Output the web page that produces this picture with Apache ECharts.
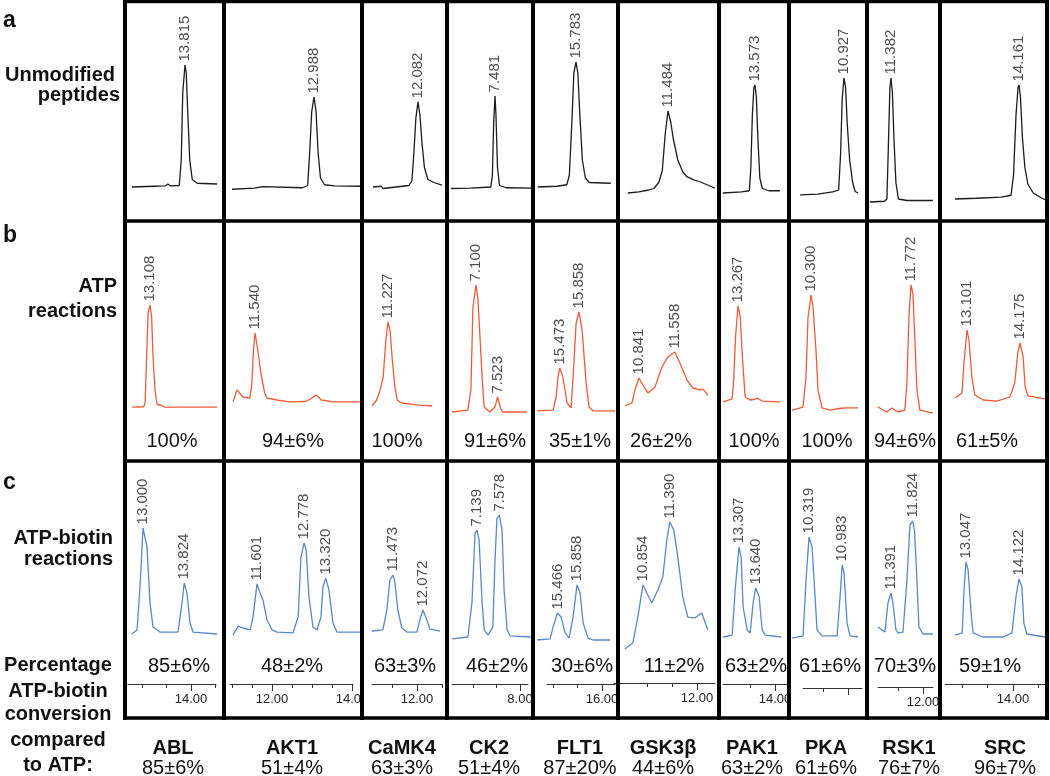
<!DOCTYPE html>
<html><head><meta charset="utf-8">
<script src="https://cdn.jsdelivr.net/npm/echarts@6/dist/echarts.min.js"></script>
<style>html,body{margin:0;padding:0;background:#fff}#c{width:1050px;height:776px}</style>
</head><body><div id="c"></div>
<script>
// ---------- DATA ----------
const kinases = ['ABL','AKT1','CaMK4','CK2','FLT1','GSK3β','PAK1','PKA','RSK1','SRC'];
const atpPct = ['100%','94±6%','100%','91±6%','35±1%','26±2%','100%','100%','94±6%','61±5%'];
const biotinPct = ['85±6%','48±2%','63±3%','46±2%','30±6%','11±2%','63±2%','61±6%','70±3%','59±1%'];
const comparedPct = ['85±6%','51±4%','63±3%','51±4%','87±20%','44±6%','63±2%','61±6%','76±7%','96±7%'];
const panelLetters = ['a','b','c'];
const rowLabelA = ['Unmodified','peptides'];
const rowLabelB = ['ATP','reactions'];
const rowLabelC = ['ATP-biotin','reactions'];
const footLabel = ['Percentage','ATP-biotin','conversion','compared','to ATP:'];

// retention-time window (min) of each chromatogram panel
const rangeA = [[12.655,14.555],[10.788,14.138],[11.002,12.622],[6.579,8.187],[14.963,16.583],[10.524,12.464],[12.893,14.213],[9.867,11.347],[10.942,12.322],[12.599,14.688]];
const rangeB = [[12.648,14.548],[10.815,14.165],[10.747,12.367],[6.571,8.178],[14.978,16.598],[10.461,12.401],[12.927,14.247],[9.9,11.38],[10.932,12.312],[12.594,14.683]];
const rangeC = [[12.68,14.58],[10.826,14.176],[10.893,12.513],[6.59,8.198],[15.018,16.638],[10.394,12.334],[12.947,14.267],[9.959,11.439],[10.951,12.331],[12.56,14.649]];

// traces: [retention time (min), relative absorbance]
const traceA = [
 [[12.755,12],[13.2,12.5],[13.42,12.7],[13.47,14],[13.52,12.8],[13.70,13],[13.74,30],[13.77,75],[13.815,93.3],[13.84,88],[13.87,62],[13.91,30],[13.96,17],[14.06,14.5],[14.455,14]],
 [[10.94,10.5],[11.5,11.2],[11.7,12.3],[11.75,11.3],[12.7,11.5],[12.83,13],[12.88,35],[12.93,62],[12.988,72],[13.04,62],[13.09,35],[13.15,18],[13.25,13.5],[13.5,12.8],[14.138,12.5]],
 [[11.18,12],[11.35,12.5],[11.38,11],[11.42,12.3],[11.9,13],[11.96,16],[12.0,35],[12.04,58],[12.082,68.7],[12.12,60],[12.16,42],[12.21,25],[12.28,17],[12.4,15],[12.56,13.3]],
 [[6.62,11],[7.0,11.3],[7.40,12],[7.43,20],[7.455,55],[7.481,72.7],[7.50,60],[7.53,25],[7.57,13],[7.7,11.5],[8.187,11.3]],
 [[15.02,12],[15.4,12.5],[15.6,13.5],[15.65,20],[15.70,55],[15.74,88],[15.783,95.3],[15.82,88],[15.86,60],[15.91,30],[15.97,18],[16.05,15],[16.48,14.5]],
 [[10.68,8],[10.9,8.7],[11.1,10],[11.2,11],[11.3,15],[11.37,23],[11.43,48],[11.484,62.7],[11.54,55],[11.59,44],[11.68,30],[11.78,22],[11.87,18.7],[12.0,16.7],[12.12,15.5],[12.3,13],[12.42,11.3]],
 [[12.93,8],[13.3,8.7],[13.46,9.5],[13.49,25],[13.52,60],[13.55,78],[13.573,80],[13.60,72],[13.63,45],[13.67,18],[13.72,11],[13.85,9.5],[14.07,9.5]],
 [[10.05,6.7],[10.4,7.3],[10.7,8.7],[10.82,10],[10.86,35],[10.89,70],[10.927,84.7],[10.96,78],[10.99,55],[11.04,30],[11.10,15],[11.15,9],[11.21,8]],
 [[10.96,2],[11.25,2.5],[11.30,4],[11.33,40],[11.36,78],[11.382,84.7],[11.41,75],[11.44,45],[11.48,15],[11.53,4],[11.7,3],[12.22,3]],
 [[12.86,4],[13.3,4.5],[13.8,5.3],[14.0,6.5],[14.05,20],[14.10,60],[14.14,78],[14.161,80],[14.19,72],[14.23,45],[14.28,25],[14.34,14],[14.45,8],[14.6,5],[14.688,3.5]]
];
const traceB = [
 [[12.75,7.3],[12.98,7.5],[13.01,10],[13.04,40],[13.07,70],[13.108,75.3],[13.14,68],[13.17,40],[13.21,18],[13.25,9],[13.33,8.5],[13.4,7.3],[14.448,7.3]],
 [[10.99,10.7],[11.09,18.7],[11.24,14],[11.41,13.3],[11.46,22],[11.50,45],[11.54,56.7],[11.60,47],[11.66,35],[11.72,25],[11.78,17],[11.84,13.3],[12.0,12.5],[12.09,12],[12.4,10.7],[12.8,11],[12.95,13],[13.065,15.3],[13.2,12],[13.5,10.7],[14.165,10.7]],
 [[10.91,8],[11.0,12],[11.07,18.7],[11.13,27],[11.18,50],[11.227,64],[11.27,58],[11.31,40],[11.36,22],[11.41,12],[11.50,10],[11.8,8.7],[12.11,8]],
 [[6.63,4],[6.94,5.3],[7.0,18.7],[7.04,74],[7.10,88.7],[7.14,78.7],[7.22,27],[7.26,7.3],[7.37,4],[7.47,7.3],[7.523,14],[7.58,6.7],[7.62,4],[8.1,4]],
 [[15.02,4.7],[15.34,5.3],[15.40,14],[15.44,28],[15.473,33.3],[15.53,28],[15.62,10],[15.70,6.7],[15.74,27],[15.80,63],[15.858,70.7],[15.92,58.7],[16.0,23.3],[16.06,7.3],[16.14,4.7],[16.58,4.7]],
 [[10.56,8],[10.70,10],[10.76,18.7],[10.841,26.7],[10.92,22],[11.02,16.7],[11.16,20.7],[11.30,34],[11.42,40.7],[11.558,44],[11.66,36.7],[11.80,25.3],[11.92,20],[12.06,18.7],[12.12,19.3],[12.16,19],[12.22,15.3]],
 [[12.97,10.7],[13.15,12.7],[13.18,25],[13.22,55],[13.267,74.7],[13.31,68],[13.36,38],[13.41,14],[13.51,12],[13.6,12.5],[13.65,13.3],[13.75,11.3],[14.11,10.7]],
 [[9.92,5.3],[10.14,7.3],[10.20,27],[10.24,67],[10.30,82],[10.34,74],[10.40,45],[10.44,18.7],[10.52,6.7],[10.68,5.3],[10.9,6.5],[11.02,6.7],[11.24,6.7]],
 [[11.11,7.3],[11.29,4],[11.39,6.7],[11.51,4],[11.65,5.3],[11.69,23.3],[11.73,67],[11.772,88.7],[11.81,83],[11.85,52],[11.89,18.7],[11.95,5.3],[12.21,3.3]],
 [[12.86,13.3],[13.0,16.7],[13.04,36.7],[13.101,58.7],[13.14,52],[13.20,27.3],[13.26,15.3],[13.43,12],[13.71,11.3],[13.97,14],[14.07,23.3],[14.13,43],[14.175,50],[14.24,40.7],[14.28,20.7],[14.34,14.7],[14.68,12.7]]
];
const traceC = [
 [[12.78,12],[12.88,14.7],[12.94,43],[13.0,82.7],[13.08,70],[13.14,32.7],[13.2,16.7],[13.34,13.3],[13.70,13.3],[13.78,32.7],[13.824,46],[13.88,39.3],[13.94,19.3],[14.0,13.3],[14.48,12]],
 [[11.0,11.3],[11.13,17.3],[11.25,16],[11.43,14.7],[11.5,23.3],[11.601,45.3],[11.68,39.3],[11.75,34.7],[11.85,21.3],[11.98,14.7],[12.1,13.3],[12.5,12.7],[12.63,23.3],[12.70,63.3],[12.778,72.7],[12.83,68],[12.90,36.7],[13.0,16.7],[13.1,14.7],[13.2,23.3],[13.25,43.3],[13.32,49.3],[13.4,41.3],[13.5,19.3],[13.6,13.3],[14.17,13.3]],
 [[11.05,14],[11.27,14.7],[11.35,28],[11.41,48],[11.473,51.3],[11.51,46.7],[11.57,28],[11.65,16],[11.75,13.3],[11.95,13.3],[12.01,21.3],[12.072,28],[12.15,21.3],[12.21,15.3],[12.31,14.7],[12.35,16],[12.41,14]],
 [[6.65,8.7],[6.96,10],[7.04,32.7],[7.10,79.3],[7.139,81.3],[7.18,74.7],[7.24,32.7],[7.28,14.7],[7.355,11.3],[7.45,16.7],[7.49,59.3],[7.53,89.3],[7.578,91.3],[7.63,81.3],[7.67,41.3],[7.73,14.7],[7.79,10.7],[8.198,10]],
 [[15.06,8],[15.32,8.7],[15.38,16.7],[15.466,26],[15.54,23.3],[15.62,12.7],[15.70,9.3],[15.78,23.3],[15.858,44.7],[15.92,39.3],[15.98,19.3],[16.08,9.3],[16.18,8],[16.52,8]],
 [[10.49,2],[10.65,6],[10.75,23.3],[10.854,44.7],[10.93,39.3],[11.03,32.7],[11.15,41.3],[11.25,50],[11.33,74.7],[11.39,86.7],[11.47,81.3],[11.55,63.3],[11.65,36.7],[11.75,23.3],[11.89,22.7],[12.03,26],[12.15,14.7]],
 [[12.99,10],[13.17,11.3],[13.23,41.3],[13.307,70],[13.35,63.3],[13.39,30],[13.47,14.7],[13.53,12.7],[13.59,32.7],[13.64,42.7],[13.71,36.7],[13.77,14.7],[13.83,11.3],[14.15,10]],
 [[9.98,9.3],[10.20,10.7],[10.26,48],[10.319,76.7],[10.38,70],[10.42,48],[10.48,14.7],[10.58,10.7],[10.88,10.7],[10.94,36.7],[10.983,58],[11.02,52.7],[11.08,19.3],[11.14,10.7],[11.30,10]],
 [[11.13,16.7],[11.27,13.3],[11.33,32.7],[11.391,39.3],[11.43,32.7],[11.49,14.7],[11.53,12.7],[11.63,13.3],[11.71,48],[11.77,84.7],[11.824,87.3],[11.86,81.3],[11.91,48],[11.95,16.7],[12.03,12],[12.23,12]],
 [[12.82,11.3],[12.97,12.7],[13.01,43.3],[13.047,60],[13.09,54.7],[13.15,26],[13.19,12.7],[13.39,10],[13.80,10],[13.98,12.7],[14.06,36.7],[14.122,48.7],[14.18,43.3],[14.22,19.3],[14.28,12],[14.649,10]]
];
// labelled peaks: [retention time, height]
const peaksA = [[[13.815,93.3]],[[12.988,72]],[[12.082,68.7]],[[7.481,72.7]],[[15.783,95.3]],[[11.484,62.7]],[[13.573,80]],[[10.927,84.7]],[[11.382,84.7]],[[14.161,80]]];
const peaksB = [[[13.108,75.3]],[[11.540,56.7]],[[11.227,64]],[[7.100,88.7],[7.523,14]],[[15.473,33.3],[15.858,70.7]],[[10.841,26.7],[11.558,44]],[[13.267,74.7]],[[10.300,82]],[[11.772,88.7]],[[13.101,58.7],[14.175,50]]];
const peaksC = [[[13.000,82.7],[13.824,46]],[[11.601,45.3],[12.778,72.7],[13.320,49.3]],[[11.473,51.3],[12.072,28]],[[7.139,81.3],[7.578,91.3]],[[15.466,26],[15.858,44.7]],[[10.854,44.7],[11.390,86.7]],[[13.307,70],[13.640,42.7]],[[10.319,76.7],[10.983,58]],[[11.391,39.3],[11.824,87.3]],[[13.047,60],[14.122,48.7]]];

// time axes under the ATP-biotin chromatograms
const axisRange = [[12.714,14.51],[10.95,14.025],[11.1,12.5],[6.553,8.17],[14.878,16.265],[10.34,12.36],[12.96,14.26],[10.1,11.28],[11.1,12.2],[12.667,14.667]];
const axisTicks = [[13,13.5,14,14.5],[11,11.5,12,12.5,13,13.5,14],[11.5,12,12.5],[7,7.5,8],[15,15.5,16],[11,11.5,12],[13.5,14],[10.5,11],[11.5,12],[13,13.5,14,14.5]];
const axisMajor = [[14],[12,14],[12],[8],[16],[12],[14],[11],[12],[14]];
const axisLabels = [[14],[12,14],[12],[8],[16],[12],[14],[],[12],[14]];

// ---------- LAYOUT ----------
const borders = [125,224,362,447,533,618,719,789,867,940,1047];
const colL = [127,226,364,449,535,620,721,791,869,942];
const colR = [222,360,445,531,616,717,787,865,938,1045];
const rowTop = [55,268,502];
const PH = 150;
const colors = ['#1c1c1c','#ef5a39','#5b87c8'];
const axL = [128,230,372,452,547,614,723,803,878,945];
const axR = [216,353,442,528,615,715,788,862,933,1047];
const axY = [684,684,684,684,684,683,684,688,687,684];
const pctBX = [172,293,397,495,580,661,754,827,905,987];
const pctCX = [179,292,405,497,582,674,756,830,905,990];
const nameX = [173,292,402,489,580,663,752,826,909,1005];

const FF = '"Liberation Sans", Arial, Helvetica, sans-serif';
const grids = [], xAxes = [], yAxes = [], series = [];
const rows = [[rangeA,traceA,peaksA],[rangeB,traceB,peaksB],[rangeC,traceC,peaksC]];
rows.forEach((row, r) => {
  for (let i = 0; i < 10; i++) {
    const g = grids.length;
    grids.push({left: colL[i], top: rowTop[r], width: colR[i]-colL[i], height: PH});
    xAxes.push({gridIndex: g, type: 'value', min: row[0][i][0], max: row[0][i][1], show: false});
    yAxes.push({gridIndex: g, type: 'value', min: 0, max: 100, show: false});
    series.push({type: 'line', xAxisIndex: xAxes.length-1, yAxisIndex: g, data: row[1][i],
      showSymbol: false, symbol: 'none', silent: true, clip: false,
      lineStyle: {color: colors[r], width: 1.3}});
    series.push({type: 'scatter', xAxisIndex: xAxes.length-1, yAxisIndex: g, data: row[2][i],
      symbolSize: 1, silent: true, itemStyle: {color: 'rgba(0,0,0,0)'},
      label: {show: true, position: 'top', distance: 3, rotate: 90, align: 'left', verticalAlign: 'middle',
        formatter: p => p.value[0].toFixed(3), fontSize: 15, color: '#222', fontFamily: FF}});
  }
});
for (let i = 0; i < 10; i++) {
  const g = grids.length;
  grids.push({left: axL[i], top: axY[i]-1, width: axR[i]-axL[i], height: 1});
  yAxes.push({gridIndex: g, type: 'value', min: 0, max: 1, show: false});
  xAxes.push({gridIndex: g, type: 'value', position: 'bottom', min: axisRange[i][0], max: axisRange[i][1],
    axisLine: {show: true, lineStyle: {color: '#333', width: 1}},
    axisTick: {show: true, length: 4, customValues: axisTicks[i], lineStyle: {color: '#333', width: 1}},
    axisLabel: {show: axisLabels[i].length > 0, customValues: axisLabels[i], formatter: v => v.toFixed(2),
      margin: 9, fontSize: 13, color: '#222', fontFamily: FF},
    splitLine: {show: false}});
  xAxes.push({gridIndex: g, type: 'value', position: 'bottom', min: axisRange[i][0], max: axisRange[i][1],
    axisLine: {show: false},
    axisTick: {show: true, length: 7, customValues: axisMajor[i], lineStyle: {color: '#333', width: 1}},
    axisLabel: {show: false}, splitLine: {show: false}});
}

const graphic = [];
const txt = (x, y, text, font, align) => graphic.push({type: 'text', x, y, z: 50, silent: true,
  style: {text, font, fill: '#111', align, verticalAlign: 'middle', textAlign: align, textVerticalAlign: 'middle'}});
const B20 = 'bold 20px ' + FF, R20 = '20px ' + FF;
txt(3, 21, panelLetters[0], 'bold 23px ' + FF, 'left');
txt(3, 236, panelLetters[1], 'bold 23px ' + FF, 'left');
txt(3, 483, panelLetters[2], 'bold 23px ' + FF, 'left');
txt(115, 75, rowLabelA[0], B20, 'right');
txt(120, 95, rowLabelA[1], B20, 'right');
txt(117, 286, rowLabelB[0], B20, 'right');
txt(117, 311, rowLabelB[1], B20, 'right');
txt(113, 538, rowLabelC[0], B20, 'right');
txt(113, 559, rowLabelC[1], B20, 'right');
[665, 691, 714, 740, 765].forEach((y, k) => txt(58, y, footLabel[k], B20, 'center'));
for (let i = 0; i < 10; i++) {
  txt(pctBX[i], 441, atpPct[i], R20, 'center');
  txt(pctCX[i], 666, biotinPct[i], R20, 'center');
  txt(nameX[i], 748, kinases[i], B20, 'center');
  txt(nameX[i], 768, comparedPct[i], R20, 'center');
}
// mask the tick label that runs past the AKT1 panel edge (as in the original, where it is cut off)
graphic.push({type: 'rect', z: 90, silent: true, shape: {x: 362, y: 690, width: 9, height: 22}, style: {fill: '#fff'}});
borders.forEach(x => graphic.push({type: 'line', z: 100, silent: true, shape: {x1: x, y1: 0, x2: x, y2: 720}, style: {stroke: '#000', lineWidth: 4}}));
[1.5, 221, 461, 718].forEach(y => graphic.push({type: 'line', z: 100, silent: true, shape: {x1: 123, y1: y, x2: 1049, y2: y}, style: {stroke: '#000', lineWidth: 3.5}}));

const chart = echarts.init(document.getElementById('c'), null, {renderer: 'canvas'});
chart.setOption({
  animation: false,
  backgroundColor: '#fff',
  textStyle: {fontFamily: FF},
  grid: grids, xAxis: xAxes, yAxis: yAxes, series, graphic
});
</script></body></html>
